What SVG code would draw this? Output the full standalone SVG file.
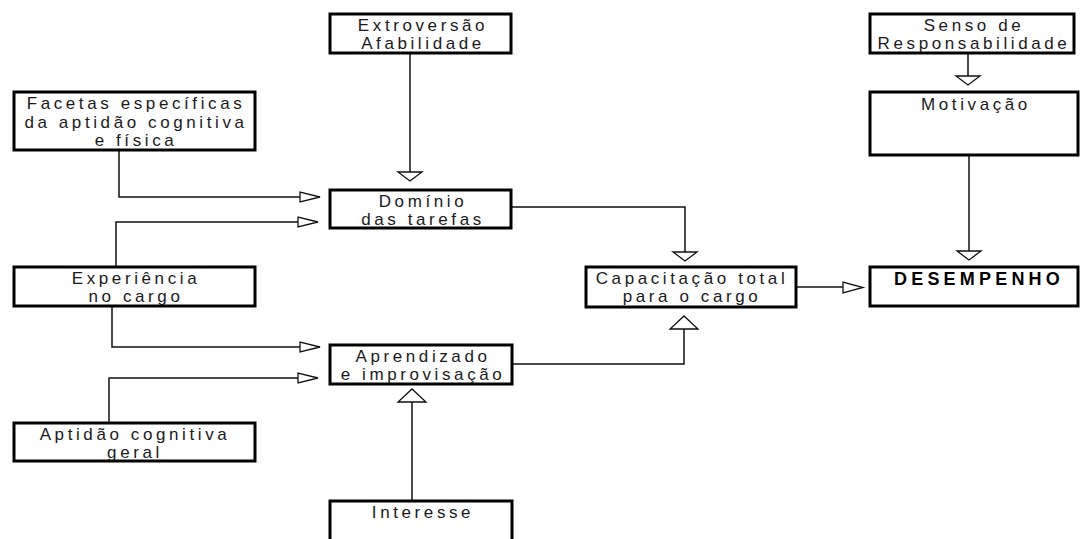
<svg xmlns="http://www.w3.org/2000/svg" width="1082" height="539" viewBox="0 0 1082 539">
<style>
.box{fill:#fff;stroke:#000;stroke-width:3}
.t{font-family:"Liberation Sans",Arial,sans-serif;font-size:17px;letter-spacing:3.6px;fill:#1a1a1a;text-anchor:middle}
.b{font-family:"Liberation Sans",Arial,sans-serif;font-size:18px;font-weight:bold;letter-spacing:4.2px;fill:#000;text-anchor:middle}
.c{fill:none;stroke:#111;stroke-width:1.5}
.a{fill:#fff;stroke:#111;stroke-width:1.3;stroke-linejoin:miter}
</style>
<rect width="1082" height="539" fill="#fff"/>
<g id="connectors">
  <path class="c" d="M410 53V172"/>
  <path class="a" d="M398 172H422L410 181Z"/>
  <path class="c" d="M119 150V197H300"/>
  <path class="a" d="M300 192V202L320 197Z"/>
  <path class="c" d="M116 267V222H298"/>
  <path class="a" d="M298 217V227L318 222Z"/>
  <path class="c" d="M112 306V347H300"/>
  <path class="a" d="M300 342V352L320 347Z"/>
  <path class="c" d="M109 423V378H298"/>
  <path class="a" d="M298 373V383L318 378Z"/>
  <path class="c" d="M412 501V402"/>
  <path class="a" d="M398 402H426L412 389Z"/>
  <path class="c" d="M511 207H685V252"/>
  <path class="a" d="M673 252H697L685 261Z"/>
  <path class="c" d="M512 364H684V329"/>
  <path class="a" d="M670 329H698L684 316Z"/>
  <path class="c" d="M796 287H843"/>
  <path class="a" d="M843 282V293L863 287.5Z"/>
  <path class="c" d="M968 53V76"/>
  <path class="a" d="M956 76H980L968 85Z"/>
  <path class="c" d="M969 155V251"/>
  <path class="a" d="M957 251H981L969 260Z"/>
</g>
<g id="extroversao">
  <rect class="box" x="330" y="14" width="181" height="39"/>
  <text class="t" x="423" y="31">Extroversão</text>
  <text class="t" x="423" y="49">Afabilidade</text>
</g>
<g id="senso">
  <rect class="box" x="870" y="14" width="204" height="39"/>
  <text class="t" x="974" y="31">Senso de</text>
  <text class="t" x="974" y="49">Responsabilidade</text>
</g>
<g id="facetas">
  <rect class="box" x="14" y="92" width="241" height="58"/>
  <text class="t" x="136" y="109">Facetas específicas</text>
  <text class="t" x="136" y="128">da aptidão cognitiva</text>
  <text class="t" x="136" y="146">e física</text>
</g>
<g id="motivacao">
  <rect class="box" x="870" y="92" width="208" height="63"/>
  <text class="t" x="976" y="110">Motivação</text>
</g>
<g id="dominio">
  <rect class="box" x="330" y="190" width="181" height="38"/>
  <text class="t" x="423" y="207">Domínio</text>
  <text class="t" x="423" y="225">das tarefas</text>
</g>
<g id="experiencia">
  <rect class="box" x="14" y="267" width="241" height="39"/>
  <text class="t" x="136" y="284">Experiência</text>
  <text class="t" x="136" y="302">no cargo</text>
</g>
<g id="capacitacao">
  <rect class="box" x="586" y="267" width="210" height="40"/>
  <text class="t" x="692" y="284">Capacitação total</text>
  <text class="t" x="692" y="302">para o cargo</text>
</g>
<g id="desempenho">
  <rect class="box" x="870" y="267" width="208" height="39"/>
  <text class="b" x="979" y="285">DESEMPENHO</text>
</g>
<g id="aprendizado">
  <rect class="box" x="330" y="345" width="182" height="39"/>
  <text class="t" x="423" y="362">Aprendizado</text>
  <text class="t" x="423" y="380">e improvisação</text>
</g>
<g id="aptidao">
  <rect class="box" x="14" y="423" width="241" height="38"/>
  <text class="t" x="135" y="440">Aptidão cognitiva</text>
  <text class="t" x="135" y="458">geral</text>
</g>
<g id="interesse">
  <rect class="box" x="330" y="501" width="182" height="45"/>
  <text class="t" x="423" y="518">Interesse</text>
</g>
</svg>
